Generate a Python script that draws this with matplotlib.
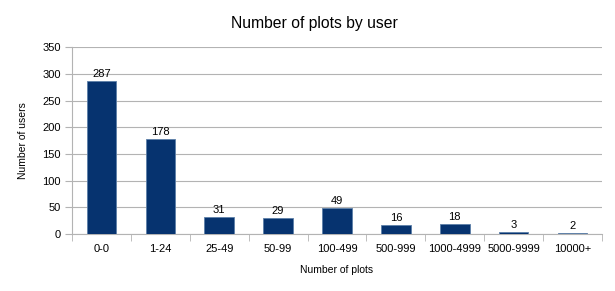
import matplotlib
matplotlib.use("Agg")
import matplotlib.pyplot as plt

categories = ["0-0", "1-24", "25-49", "50-99", "100-499", "500-999",
              "1000-4999", "5000-9999", "10000+"]
users = [287, 178, 31, 29, 49, 16, 18, 3, 2]
y_ticks = [0, 50, 100, 150, 200, 250, 300, 350]

plt.rcParams["font.family"] = ["Liberation Sans", "DejaVu Sans"]

fig = plt.figure(figsize=(6.15, 2.91), dpi=100)
ax = fig.add_axes([0.117, 0.196, 0.862, 0.642])

x = list(range(len(categories)))
bars = ax.bar(x, users, width=0.5, color="#06336f", edgecolor="#5c7fa8",
              linewidth=0.6, zorder=3)
for xi, v in zip(x, users):
    ax.text(xi, v + 4, str(v), ha="center", va="bottom", fontsize=8)

ax.set_xlim(-0.5, len(categories) - 0.5)
ax.set_ylim(0, 350)
ax.set_yticks(y_ticks)
ax.set_xticks(x)
ax.set_xticklabels(categories)
ax.set_xticks([i - 0.5 for i in range(len(categories) + 1)], minor=True)
ax.tick_params(axis="x", which="major", length=0, labelsize=8, pad=7)
ax.tick_params(axis="x", which="minor", length=5, color="#b3b3b3", direction="out")
ax.tick_params(axis="y", length=5, color="#b3b3b3", labelsize=8, pad=3)
ax.yaxis.grid(True, color="#b3b3b3", linewidth=0.8, zorder=0)

for side in ["top", "right"]:
    ax.spines[side].set_visible(False)
for side in ["left", "bottom"]:
    ax.spines[side].set_color("#b3b3b3")

ax.set_xlabel("Number of plots", fontsize=7.5, labelpad=8)
ax.set_ylabel("Number of users", fontsize=7.5, labelpad=10)
fig.suptitle("Number of plots by user", fontsize=11.3, x=0.512, y=0.945)

fig.savefig("out.png", dpi=100)
